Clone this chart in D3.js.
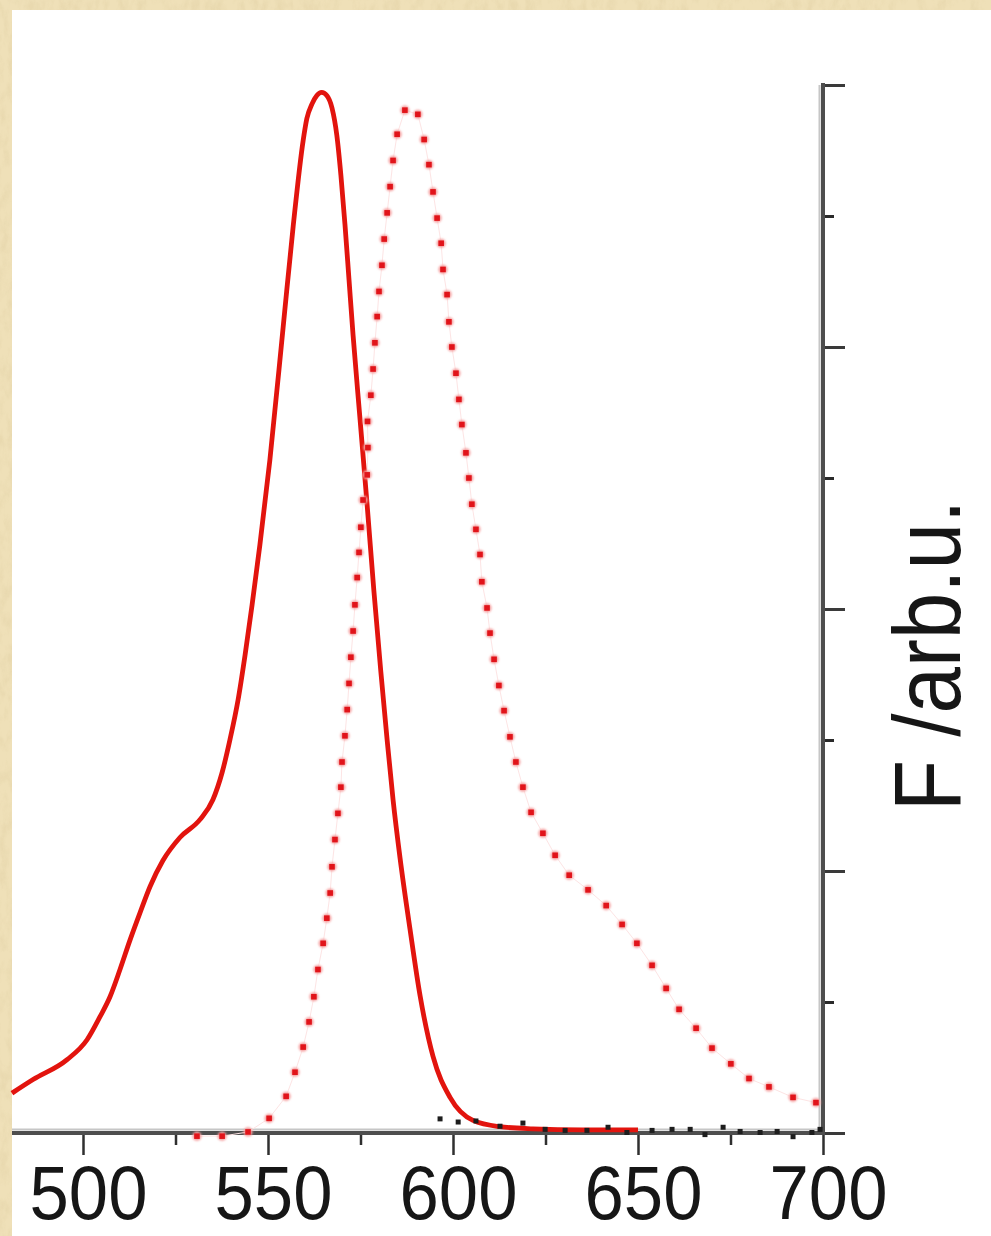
<!DOCTYPE html>
<html>
<head>
<meta charset="utf-8">
<script src="https://cdn.jsdelivr.net/npm/d3@7"></script>
<style>
  html, body { margin: 0; padding: 0; background: #fff; }
  svg { display: block; }
  text { font-family: "Liberation Sans", Arial, sans-serif; fill: #111; }
</style>
</head>
<body>
<svg id="chart" width="991" height="1236"></svg>
<script>
// solid red curve (wavelength nm / normalised F)
var solidWl = [480.8, 486.5, 495.7, 501.1, 504.6, 507.3, 510.0, 512.7, 515.4, 518.1, 521.6, 526.2, 531.6, 535.1, 537.6, 539.7,
  541.9, 543.8, 545.7, 547.8, 550.5, 554.1, 556.8, 559.5, 560.5, 561.9, 563.2, 564.5, 565.9, 567.3, 568.6, 569.7, 570.8,
  571.9, 573.0, 574.9, 576.8, 578.6, 580.5, 582.2, 583.8, 585.7, 588.4, 591.1, 594.6, 599.2, 605.4, 612.7, 621.6, 635.0, 650.0];
var solidF = [0.038, 0.051, 0.070, 0.089, 0.111, 0.130, 0.156, 0.184, 0.210, 0.235, 0.260, 0.282, 0.299, 0.318, 0.344, 0.375,
  0.413, 0.456, 0.504, 0.561, 0.642, 0.769, 0.865, 0.947, 0.968, 0.982, 0.990, 0.993, 0.990, 0.978, 0.952, 0.914, 0.867,
  0.814, 0.761, 0.680, 0.599, 0.518, 0.440, 0.375, 0.318, 0.262, 0.194, 0.131, 0.073, 0.034, 0.012, 0.006, 0.004, 0.003, 0.003];

// dotted red curve
var dotWl = [530.8, 537.6, 544.6, 550.3, 554.9, 557.3, 559.5, 561.1, 562.4, 563.5, 564.9, 565.9, 566.8, 567.3, 568.1, 568.9,
  569.7, 570.0, 570.8, 571.4, 571.9, 572.4, 573.0, 573.5, 574.1, 574.6, 575.1, 575.7, 576.8, 577.0, 576.9, 577.8, 578.4,
  578.9, 579.5, 580.0, 580.8, 581.4, 582.2, 583.0, 583.8, 584.9, 587.0, 590.5, 592.2, 593.5, 594.6, 595.7, 596.8, 597.3,
  598.4, 598.9, 599.7, 600.8, 601.6, 602.4, 603.5, 604.3, 605.1, 606.2, 607.3, 607.8, 609.2, 610.0, 611.1, 612.4, 613.8,
  615.4, 617.0, 618.9, 621.1, 624.3, 627.6, 631.4, 636.5, 641.4, 645.7, 649.7, 653.8, 657.6, 661.1, 665.7, 670.0, 675.1,
  680.0, 685.4, 691.9, 698.1];
var dotF = [-0.003, -0.003, 0.001, 0.014, 0.035, 0.058, 0.082, 0.106, 0.130, 0.156, 0.181, 0.205, 0.229, 0.254, 0.280, 0.305,
  0.330, 0.354, 0.379, 0.404, 0.429, 0.454, 0.479, 0.504, 0.530, 0.554, 0.578, 0.604, 0.628, 0.654, 0.679, 0.704, 0.729,
  0.754, 0.779, 0.803, 0.828, 0.853, 0.878, 0.903, 0.928, 0.953, 0.976, 0.972, 0.948, 0.924, 0.898, 0.873, 0.849, 0.824,
  0.800, 0.774, 0.750, 0.725, 0.700, 0.676, 0.649, 0.625, 0.600, 0.576, 0.552, 0.526, 0.501, 0.477, 0.452, 0.427, 0.403,
  0.378, 0.354, 0.330, 0.306, 0.286, 0.265, 0.246, 0.232, 0.217, 0.199, 0.181, 0.160, 0.138, 0.118, 0.100, 0.081, 0.066,
  0.052, 0.044, 0.034, 0.029];

// black dotted trace near the baseline
var blackWl = [596.5, 601.4, 606.2, 612.7, 618.9, 624.9, 630.3, 636.2, 641.9, 647.0, 653.8, 659.2, 664.1, 668.1, 673.0,
  677.6, 683.0, 687.6, 691.9, 697.0, 699.2];
var blackF = [0.013, 0.010, 0.011, 0.006, 0.009, 0.003, 0.002, 0.002, 0.005, 0.000, 0.002, 0.003, 0.003, -0.002, 0.005,
  0.001, 0.000, 0.001, -0.004, 0.000, 0.003];

var majorTicksX = [500, 550, 600, 650, 700];
var minorTicksX = [525, 575, 625, 675];
var xLabels = ['500', '550', '600', '650', '700'];
var majorTicksY = [0, 0.25, 0.5, 0.75, 1];
var minorTicksY = [0.125, 0.375, 0.625, 0.875];
var yLabel = 'F /arb.u.';

var W = 991, H = 1236;
var svg = d3.select('#chart');

var x = d3.scaleLinear().domain([500, 700]).range([83, 823]);
var y = d3.scaleLinear().domain([0, 1]).range([1133, 85]);

// parchment background
var defs = svg.append('defs');
var paper = defs.append('filter').attr('id', 'paper').attr('x', 0).attr('y', 0).attr('width', 1).attr('height', 1);
paper.append('feTurbulence').attr('type', 'fractalNoise').attr('baseFrequency', '0.12 0.06').attr('numOctaves', 4).attr('seed', 7).attr('result', 'n');
paper.append('feColorMatrix').attr('in', 'n').attr('type', 'matrix')
  .attr('values', '0 0 0 0 0.80  0 0 0 0 0.68  0 0 0 0 0.42  0 0 0 -2.6 1.55');
// soft halo round the red dots
var halo = defs.append('filter').attr('id', 'halo').attr('x', '-100%').attr('y', '-100%').attr('width', '300%').attr('height', '300%');
halo.append('feGaussianBlur').attr('stdDeviation', 0.9);

svg.append('rect').attr('width', W).attr('height', H).attr('fill', '#efe0b8');
svg.append('rect').attr('width', W).attr('height', H).attr('filter', 'url(#paper)').attr('opacity', 0.75);
svg.append('rect').attr('x', 12).attr('y', 10).attr('width', W - 12).attr('height', H - 10).attr('fill', '#fff');

// light shadow of the axis lines
svg.append('line').attr('x1', 12).attr('x2', 821).attr('y1', 1129.5).attr('y2', 1129.5)
  .attr('stroke', '#c6c6c6').attr('stroke-width', 2);
svg.append('line').attr('x1', 819.5).attr('x2', 819.5).attr('y1', 85).attr('y2', 1131)
  .attr('stroke', '#c6c6c6').attr('stroke-width', 2);

// bottom axis
var gx = svg.append('g').attr('transform', 'translate(0,1133)')
  .call(d3.axisBottom(x).tickValues(majorTicksX).tickSize(22).tickSizeOuter(0)
    .tickFormat(function(d, i) { return xLabels[i]; }));
gx.select('.domain').remove();
gx.selectAll('.tick line').attr('stroke', '#2f2f2f').attr('stroke-width', 2.5);
gx.selectAll('.tick text')
  .attr('y', 86).attr('dy', null)
  .attr('transform', 'translate(5,0) scale(0.93,1)')
  .style('font-size', '76px').style('fill', '#161616');

var gxm = svg.append('g').attr('transform', 'translate(0,1133)')
  .call(d3.axisBottom(x).tickValues(minorTicksX).tickSize(12).tickSizeOuter(0).tickFormat(''));
gxm.select('.domain').remove();
gxm.selectAll('.tick line').attr('stroke', '#2f2f2f').attr('stroke-width', 2.5);

// right axis
var gy = svg.append('g').attr('transform', 'translate(823,0)')
  .call(d3.axisRight(y).tickValues(majorTicksY).tickSize(22).tickSizeOuter(0).tickFormat(''));
gy.select('.domain').remove();
gy.selectAll('.tick line').attr('stroke', '#3a3a3a').attr('stroke-width', 3);

var gym = svg.append('g').attr('transform', 'translate(823,0)')
  .call(d3.axisRight(y).tickValues(minorTicksY).tickSize(11).tickSizeOuter(0).tickFormat(''));
gym.select('.domain').remove();
gym.selectAll('.tick line').attr('stroke', '#2a2a2a').attr('stroke-width', 3);

// axis lines
svg.append('line').attr('x1', 12).attr('x2', x(700) + 2).attr('y1', y(0)).attr('y2', y(0))
  .attr('stroke', '#4e4e4e').attr('stroke-width', 4);
svg.append('line').attr('x1', x(700)).attr('x2', x(700)).attr('y1', y(1) - 2).attr('y2', y(0) + 2)
  .attr('stroke', '#4e4e4e').attr('stroke-width', 4);

// axis title
svg.append('text')
  .attr('transform', 'translate(960,811) rotate(-90) scale(0.88,1)')
  .style('font-size', '95px')
  .style('fill', '#161616')
  .text(yLabel);

// dotted red series: faint joining line first
var dotData = dotWl.map(function(w, i) { return {w: w, f: dotF[i]}; });
svg.append('path').datum(dotData)
  .attr('fill', 'none').attr('stroke', '#fde4e4').attr('stroke-width', 1)
  .attr('d', d3.line().x(function(d) { return x(d.w); }).y(function(d) { return y(d.f); }));

// solid red series
var solidData = solidWl.map(function(w, i) { return {w: w, f: solidF[i]}; });
svg.append('path').datum(solidData)
  .attr('fill', 'none')
  .attr('stroke', '#e2140e')
  .attr('stroke-width', 4.8)
  .attr('stroke-linejoin', 'round')
  .attr('d', d3.line().curve(d3.curveMonotoneX)
    .x(function(d) { return x(d.w); }).y(function(d) { return y(d.f); }));

var dots = svg.append('g');
dots.selectAll('circle.halo').data(dotData).enter().append('circle')
  .attr('class', 'halo')
  .attr('cx', function(d) { return x(d.w); })
  .attr('cy', function(d) { return y(d.f); })
  .attr('r', 4.6)
  .attr('fill', '#f5a0a0')
  .attr('filter', 'url(#halo)');
dots.selectAll('rect').data(dotData).enter().append('rect')
  .attr('x', function(d) { return x(d.w) - 2.8; })
  .attr('y', function(d) { return y(d.f) - 2.8; })
  .attr('width', 5.6).attr('height', 5.6)
  .attr('fill', '#e1141a');

// black dotted trace
var blackData = blackWl.map(function(w, i) { return {w: w, f: blackF[i]}; });
svg.append('g').selectAll('rect').data(blackData).enter().append('rect')
  .attr('x', function(d) { return x(d.w) - 2.5; })
  .attr('y', function(d) { return y(d.f) - 3; })
  .attr('width', 5).attr('height', 5)
  .attr('fill', '#1d1d1d');
</script>
</body>
</html>
